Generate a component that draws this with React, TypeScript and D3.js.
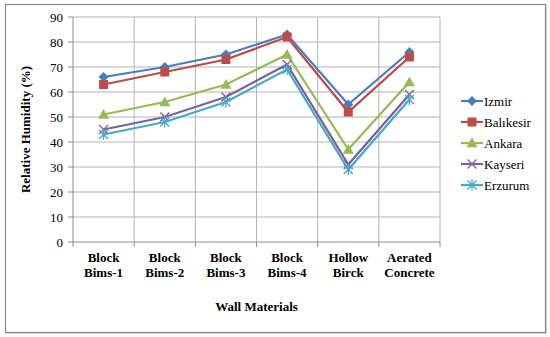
import * as d3 from "d3";
import React from "react";

const categories = [
  ["Block", "Bims-1"],
  ["Block", "Bims-2"],
  ["Block", "Bims-3"],
  ["Block", "Bims-4"],
  ["Hollow", "Birck"],
  ["Aerated", "Concrete"],
];
const izmir = [66, 70, 75, 83, 55, 76];
const balikesir = [63, 68, 73, 82, 52, 74];
const ankara = [51, 56, 63, 75, 37, 64];
const kayseri = [45, 50, 58, 71, 31, 59];
const erzurum = [43, 48, 56, 69, 29, 57];
const yTicks = [0, 10, 20, 30, 40, 50, 60, 70, 80, 90];

const seriesList = [
  { name: "Izmir", values: izmir, color: "#4A7EBB", marker: "diamond" },
  { name: "Balıkesir", values: balikesir, color: "#BE4B48", marker: "square" },
  { name: "Ankara", values: ankara, color: "#98B954", marker: "triangle" },
  { name: "Kayseri", values: kayseri, color: "#7D60A0", marker: "x" },
  { name: "Erzurum", values: erzurum, color: "#46AAC5", marker: "star" },
];

const W = 550;
const H = 337;
const plot = { left: 73, right: 440, top: 17, bottom: 242 };
const font = "serif";

function Marker({ type, x, y, color }) {
  if (type === "diamond") {
    const s = 5;
    return <path d={`M${x},${y - s}L${x + s},${y}L${x},${y + s}L${x - s},${y}Z`} fill={color} />;
  }
  if (type === "square") {
    const s = 4.5;
    return <rect x={x - s} y={y - s} width={s * 2} height={s * 2} fill={color} />;
  }
  if (type === "triangle") {
    const s = 5.5;
    return <path d={`M${x},${y - s}L${x + s},${y + s * 0.75}L${x - s},${y + s * 0.75}Z`} fill={color} />;
  }
  if (type === "x") {
    const s = 4.5;
    return (
      <path
        d={`M${x - s},${y - s}L${x + s},${y + s}M${x - s},${y + s}L${x + s},${y - s}`}
        stroke={color}
        strokeWidth={1.3}
        fill="none"
      />
    );
  }
  const s = 4.5;
  return (
    <path
      d={`M${x - s},${y - s}L${x + s},${y + s}M${x - s},${y + s}L${x + s},${y - s}M${x},${y - s - 1}L${x},${y + s + 1}`}
      stroke={color}
      strokeWidth={1.3}
      fill="none"
    />
  );
}

export default function App() {
  const x = d3
    .scaleBand()
    .domain(categories.map((_, i) => String(i)))
    .range([plot.left, plot.right]);
  const y = d3.scaleLinear().domain([0, 90]).range([plot.bottom, plot.top]);

  const line = d3
    .line<number>()
    .x((_, i) => x(String(i)) + x.bandwidth() / 2)
    .y((d) => y(d));

  const boundaries = d3.range(categories.length + 1).map((i) => plot.left + i * x.bandwidth());

  return (
    <div style={{ position: "absolute", left: 0, top: 0 }}>
      <svg width={W} height={H} style={{ display: "block" }} fontFamily={font}>
        <rect x={0} y={0} width={W} height={H} fill="#fff" />
        <rect x={5.5} y={4.5} width={540} height={328} fill="#fff" stroke="#8c8c8c" strokeWidth={1.2} />
        <line x1={6} y1={333.5} x2={546} y2={333.5} stroke="#d0d0d0" />
        <line x1={546.5} y1={5} x2={546.5} y2={333} stroke="#d0d0d0" />

        {/* grid */}
        <g stroke="#b3b3b3" strokeWidth={1}>
          {yTicks.slice(1).map((t) => (
            <line key={t} x1={plot.left} x2={plot.right} y1={y(t)} y2={y(t)} />
          ))}
          {boundaries.slice(1).map((b, i) => (
            <line key={i} x1={b} x2={b} y1={plot.top} y2={plot.bottom} />
          ))}
        </g>

        {/* axes */}
        <g stroke="#8c8c8c" strokeWidth={1}>
          <line x1={plot.left} x2={plot.left} y1={plot.top} y2={plot.bottom} />
          <line x1={plot.left} x2={plot.right} y1={plot.bottom} y2={plot.bottom} />
          {yTicks.map((t) => (
            <line key={t} x1={plot.left - 5} x2={plot.left} y1={y(t)} y2={y(t)} />
          ))}
          {boundaries.map((b, i) => (
            <line key={i} x1={b} x2={b} y1={plot.bottom} y2={plot.bottom + 5} />
          ))}
        </g>

        {yTicks.map((t) => (
          <text key={t} x={plot.left - 10} y={y(t)} dy="0.35em" textAnchor="end" fontSize={13} fill="#000">
            {t}
          </text>
        ))}

        {categories.map((c, i) => {
          const cx = x(String(i)) + x.bandwidth() / 2;
          return (
            <text key={i} x={cx} textAnchor="middle" fontSize={13} fontWeight="bold" fill="#000">
              <tspan x={cx} y={262}>{c[0]}</tspan>
              <tspan x={cx} y={277}>{c[1]}</tspan>
            </text>
          );
        })}

        <text x={(plot.left + plot.right) / 2} y={311} textAnchor="middle" fontSize={13} fontWeight="bold">
          Wall Materials
        </text>
        <text
          transform={`translate(30,${(plot.top + plot.bottom) / 2}) rotate(-90)`}
          textAnchor="middle"
          fontSize={13}
          fontWeight="bold"
        >
          Relative Humidity (%)
        </text>

        {/* series */}
        {seriesList.map((s) => (
          <g key={s.name}>
            <path d={line(s.values)} fill="none" stroke={s.color} strokeWidth={2.25} />
            {s.values.map((v, i) => (
              <Marker key={i} type={s.marker} x={x(String(i)) + x.bandwidth() / 2} y={y(v)} color={s.color} />
            ))}
          </g>
        ))}

        {/* legend */}
        {seriesList.map((s, i) => {
          const ly = 101 + i * 21;
          return (
            <g key={s.name}>
              <line x1={461} x2={483} y1={ly} y2={ly} stroke={s.color} strokeWidth={2.25} />
              <Marker type={s.marker} x={472} y={ly} color={s.color} />
              <text x={484} y={ly} dy="0.35em" fontSize={13}>
                {s.name}
              </text>
            </g>
          );
        })}
      </svg>
    </div>
  );
}
